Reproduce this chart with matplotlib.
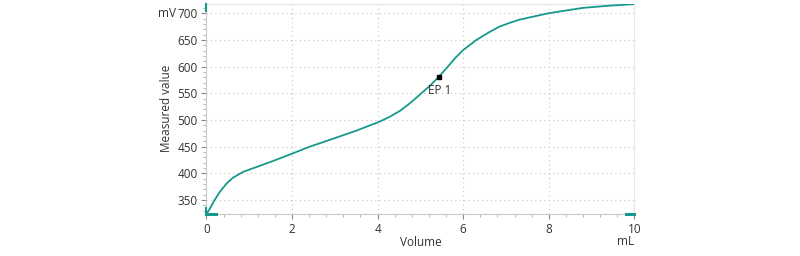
import matplotlib.pyplot as plt
from matplotlib.ticker import MultipleLocator

plt.rcParams['font.family'] = ['Open Sans', 'DejaVu Sans']

# titration curve
volume = [0.0, 0.08, 0.19, 0.31, 0.47, 0.62, 0.86, 1.17, 1.48, 1.97,
          2.41, 2.96, 3.5, 4.05, 4.28, 4.52, 4.75, 4.98, 5.22, 5.43, 5.61,
          5.8, 6.0, 6.31, 6.62, 6.85, 7.09, 7.32, 8.0, 8.8, 9.4, 10.0]
mv = [324, 334, 350, 365, 381, 392, 403, 412, 421, 436,
      450, 465, 480, 497, 506, 517, 531, 547, 564, 581, 597,
      615, 631, 650, 665, 675, 682, 688, 700, 710, 714, 717]
ep_volume = 5.44
ep_value = 581
ep_label = 'EP 1'

TEAL = '#16998a'
GRAY = '#c8c8c8'
TEXT = '#333333'

fig = plt.figure(figsize=(8, 2.56), dpi=100)
ax = fig.add_axes([0.258, 0.164, 0.535, 0.822])

ax.plot(volume, mv, color=TEAL, linewidth=1.3, zorder=3,
        solid_joinstyle='round')
ax.plot(ep_volume, ep_value, marker='s', color='black', markersize=3.5, zorder=4)
ax.text(ep_volume, ep_value - 25, ep_label, ha='center', va='center',
        fontsize=8.5, color=TEXT, zorder=5)

ax.set_xlim(0, 10)
ax.set_ylim(324, 718)
ax.xaxis.set_major_locator(MultipleLocator(2))
ax.xaxis.set_minor_locator(MultipleLocator(0.4))
ax.yaxis.set_major_locator(MultipleLocator(50))
ax.yaxis.set_minor_locator(MultipleLocator(10))
ax.set_yticks(range(350, 701, 50))

ax.grid(True, which='major', linestyle=(0, (1, 3)), color='#c4c4c4', linewidth=0.8)
for side in ['top', 'right']:
    ax.spines[side].set_color('#e6e6e6')
for side in ['left', 'bottom']:
    ax.spines[side].set_color(GRAY)
ax.tick_params(which='major', length=3.6, color='#888888', labelsize=8.5,
               labelcolor=TEXT, pad=2.7)
ax.tick_params(which='minor', length=2.2, color='#aaaaaa')

ax.set_xlabel('Volume', fontsize=8.5, color=TEXT, labelpad=0)
ax.set_ylabel('Measured value', fontsize=8.5, color=TEXT, labelpad=3)
ax.text(-0.07, 700, 'mV', transform=ax.get_yaxis_transform(), ha='right',
        va='center', fontsize=8.5, color=TEXT)
ax.text(9.8, -0.1, 'mL', transform=ax.get_xaxis_transform(), ha='center',
        va='top', fontsize=8.5, color=TEXT)

# teal range markers on the axes
ax.plot([0, 0.22], [324.5, 324.5], color=TEAL, linewidth=2.2, clip_on=False, zorder=5)
ax.plot([9.8, 10], [324.5, 324.5], color=TEAL, linewidth=2.2, clip_on=False, zorder=5)
ax.plot([0, 0], [324, 336], color=TEAL, linewidth=1.5, clip_on=False, zorder=5)
ax.plot([0, 0], [705, 718], color=TEAL, linewidth=1.5, clip_on=False, zorder=5)

fig.savefig('out.png', dpi=100)
